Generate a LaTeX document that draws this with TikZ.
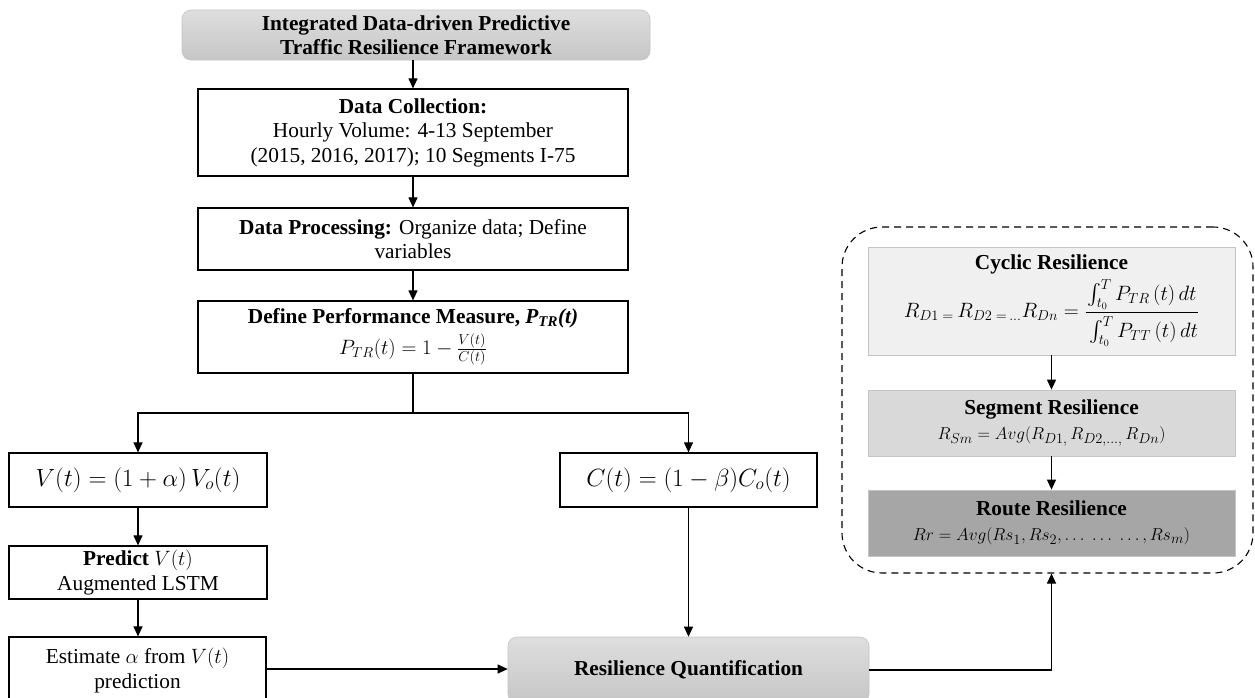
\documentclass[tikz,border=0pt]{standalone}
\usepackage{amsmath}
\usepackage{fontspec}
\setmainfont{Liberation Serif}
\usetikzlibrary{arrows.meta}
\definecolor{gtop}{HTML}{DEDEDE}
\definecolor{gbot}{HTML}{C6C6C6}
\definecolor{cyc}{HTML}{F0F0F0}
\definecolor{seg}{HTML}{D9D9D9}
\definecolor{rou}{HTML}{A6A6A6}
\definecolor{lbord}{HTML}{C4C4C4}
\newcommand{\mfs}[1]{\fontsize{#1}{#1}\selectfont}
\tikzset{
  basefont/.style={font=\fontsize{21.3pt}{24.5pt}\selectfont},
  plainbox/.style={basefont, draw=black, line width=1.2pt, fill=white, align=center, inner sep=0pt},
  roundgray/.style={basefont, draw=lbord, line width=0.6pt, rounded corners=9pt, top color=gtop, bottom color=gbot, align=center, inner sep=0pt},
  resbox/.style={basefont, draw=lbord, line width=0.8pt, align=center, inner sep=0pt, minimum width=367pt},
  arr/.style={line width=1.1pt, -{Triangle[length=10pt,width=9pt]}},
  ln/.style={line width=1.1pt},
  grpbox/.style={draw=black, line width=1.1pt, dash pattern=on 7pt off 5pt, rounded corners=40pt, minimum width=411pt, minimum height=346pt, inner sep=0pt}
}
\begin{document}
\begin{tikzpicture}[x=1pt,y=-1pt]
\clip (0,0) rectangle (1255,697);
\useasboundingbox (0,0) rectangle (1255,697);

\node[roundgray, minimum width=468pt, minimum height=50pt] (top) at (416,35)
  {\textbf{Integrated Data-driven Predictive}\\\textbf{Traffic Resilience Framework}};
\node[plainbox, minimum width=430pt, minimum height=87pt] (dc) at (413,132.5)
  {\textbf{Data Collection:}\\Hourly Volume: 4-13 September\\(2015, 2016, 2017); 10 Segments I-75};
\node[plainbox, minimum width=430pt, minimum height=62pt] (dp) at (413,239)
  {\textbf{Data Processing:} Organize data; Define\\variables};
\node[plainbox, minimum width=430pt, minimum height=72pt] (dpm) at (413,337)
  {\textbf{Define Performance Measure, \textit{P\textsubscript{TR}(t)}}\\[5pt]
   {\mfs{21.5pt}$P_{TR}(t)=1-\frac{V(t)}{C(t)}$}};
\coordinate (branch) at (413,413);

\node[plainbox, minimum width=258pt, minimum height=54pt] (v) at (138,480)
  {\mfs{24pt}$V(t)=(1+\alpha)\,V_o(t)$};
\node[plainbox, minimum width=258pt, minimum height=53pt] (pred) at (138,572.5)
  {\textbf{Predict} $V(t)$\\Augmented LSTM};
\node[plainbox, minimum width=257pt, minimum height=67pt] (est) at (137.5,670.5)
  {Estimate $\alpha$ from $V(t)$\\prediction};
\node[plainbox, minimum width=257pt, minimum height=54pt] (c) at (688.5,480)
  {\mfs{23.7pt}$C(t)=(1-\beta)C_o(t)$};
\node[roundgray, minimum width=361pt, minimum height=66pt] (rq) at (688.5,670)
  {\textbf{Resilience Quantification}};

\node[grpbox] (grp) at (1047.5,400) {};
\node[resbox, fill=cyc, minimum height=108pt] (cyc) at (1051.5,301)
  {\textbf{Cyclic Resilience}\\[4pt]
   {\mfs{20pt}$\displaystyle R_{D1}\,{}_{=}\,R_{D2}\,{}_{=\,\dots}R_{Dn}=\frac{\int_{t_0}^{T}P_{TR}\,(t)\,dt}{\rule{0pt}{22pt}\int_{t_0}^{T}P_{TT}\,(t)\,dt}$}};
\node[resbox, fill=seg, minimum height=66pt] (seg) at (1051.5,423)
  {\textbf{Segment Resilience}\\[1pt]{\mfs{19pt}$R_{Sm}=Avg(R_{D1,}\,R_{D2,\dots,}\,R_{Dn})$}};
\node[resbox, fill=rou, minimum height=66pt] (rou) at (1051.5,523)
  {\textbf{Route Resilience}\\[1pt]{\mfs{19pt}$Rr=Avg(Rs_1,Rs_2,\ldots\;\ldots\;\ldots,Rs_m)$}};

\draw[arr] (top.south -| dc.north) -- (dc.north);
\draw[arr] (dc) -- (dp);
\draw[arr] (dp) -- (dpm);
\draw[ln] (dpm.south) -- (branch);
\draw[arr] (branch) -| (v.north);
\draw[arr] (branch) -| (c.north);
\draw[arr] (v) -- (pred);
\draw[arr] (pred) -- (est.north -| pred.south);
\draw[arr] (est.east |- 0,669) -- (rq.west |- 0,669);
\draw[arr] (c.south) -- (rq.north -| c.south);
\draw[arr] (rq.east |- 0,670) -| (grp.south -| cyc.south);
\draw[arr] (cyc) -- (seg);
\draw[arr] (seg) -- (rou);
\end{tikzpicture}
\end{document}
